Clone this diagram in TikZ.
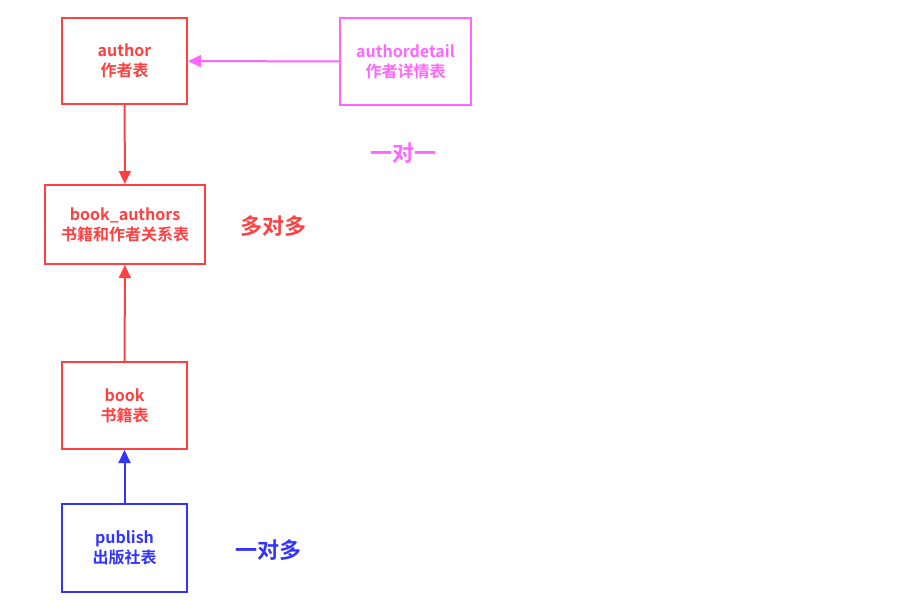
\documentclass[tikz,border=0pt]{standalone}
\usepackage{fontspec}
\setmainfont{Noto Sans CJK SC}[BoldFont={Noto Sans CJK SC Bold}]
\usetikzlibrary{arrows.meta}
\definecolor{rd}{HTML}{FF4040}
\definecolor{mg}{HTML}{FF66FF}
\definecolor{bl}{HTML}{3333FF}
\begin{document}
\begin{tikzpicture}[x=1pt,y=-1pt,
  tbl/.style={draw=#1,text=#1,line width=2pt,align=center,font=\bfseries\fontsize{16}{20}\selectfont,inner sep=0pt},
  arr/.style={draw=#1,line width=2pt,-{Triangle[length=13pt,width=12pt]}},
  lbl/.style={text=#1,font=\bfseries\fontsize{22}{24}\selectfont}]
\useasboundingbox (0,0) rectangle (920,612);
\node[tbl=rd,minimum width=125pt,minimum height=86pt] (author) at (124.5,61) {author\\作者表};
\node[tbl=mg,minimum width=131pt,minimum height=87pt] (detail) at (405.5,61.5) {authordetail\\作者详情表};
\node[tbl=rd,minimum width=160pt,minimum height=79pt] (ba) at (125,224.5) {book\_authors\\书籍和作者关系表};
\node[tbl=rd,minimum width=125pt,minimum height=87pt] (book) at (124.5,405.5) {book\\书籍表};
\node[tbl=bl,minimum width=125pt,minimum height=88pt] (pub) at (124.5,548) {publish\\出版社表};
\draw[arr=mg] (detail) -- (author);
\draw[arr=rd] (author) -- (ba);
\draw[arr=rd] (book) -- (ba);
\draw[arr=bl] (pub) -- (book);
\node[lbl=mg] (l1) at (403,153) {一对一};
\node[lbl=rd] (l2) at (273,226) {多对多};
\node[lbl=bl] (l3) at (268,550) {一对多};
\end{tikzpicture}
\end{document}
